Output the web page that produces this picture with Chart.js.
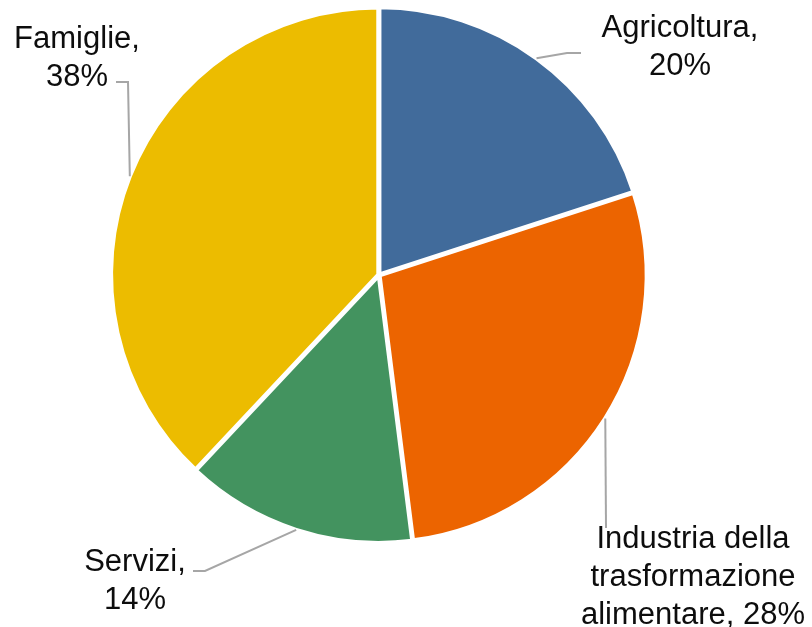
<!DOCTYPE html>
<html>
<head>
<meta charset="utf-8">
<script src="https://cdn.jsdelivr.net/npm/chart.js@4.4.1/dist/chart.umd.min.js"></script>
<style>
  html, body { margin: 0; padding: 0; background: #fff; }
</style>
</head>
<body>
<canvas id="pie" width="812" height="627"></canvas>
<script>
const categories = ["Agricoltura", "Industria della trasformazione alimentare", "Servizi", "Famiglie"];
const shares = [20, 28, 14, 38];
const sliceColors = ["#416B9B", "#EC6400", "#43935F", "#ECBC00"];

// where each label block sits: centre x, first baseline, wrap width,
// and the elbow of its leader line (the last point goes to the slice)
const labelBoxes = [
  { cx: 680, y: 37, wrap: 175, leader: [[581, 53], [567, 53]] },
  { cx: 693, y: 548, wrap: 240, leader: [[606, 528]] },
  { cx: 135, y: 571, wrap: 150, leader: [[193, 571], [205, 571]] },
  { cx: 77, y: 48, wrap: 150, leader: [[116, 82], [128, 82]] }
];

const FONT = '31px "Liberation Sans", Arial, sans-serif';
const LINE_H = 38;

function wrapText(ctx, text, maxW) {
  const words = text.split(' ');
  const lines = [];
  let cur = '';
  words.forEach(w => {
    const test = cur ? cur + ' ' + w : w;
    if (cur && ctx.measureText(test).width > maxW) {
      lines.push(cur);
      cur = w;
    } else {
      cur = test;
    }
  });
  if (cur) lines.push(cur);
  return lines;
}

const sliceLabels = {
  id: 'sliceLabels',
  afterDatasetsDraw(chart) {
    const ctx = chart.ctx;
    const meta = chart.getDatasetMeta(0);
    ctx.save();
    ctx.font = FONT;
    meta.data.forEach((arc, i) => {
      const p = arc.getProps(['x', 'y', 'startAngle', 'endAngle', 'outerRadius'], true);
      const mid = (p.startAngle + p.endAngle) / 2;
      const r = p.outerRadius - arc.options.borderWidth / 2 + arc.options.offset;
      const ax = p.x + Math.cos(mid) * r;
      const ay = p.y + Math.sin(mid) * r;
      const box = labelBoxes[i];

      // leader line
      ctx.strokeStyle = '#A6A6A6';
      ctx.lineWidth = 2;
      ctx.beginPath();
      ctx.moveTo(box.leader[0][0], box.leader[0][1]);
      box.leader.slice(1).forEach(pt => ctx.lineTo(pt[0], pt[1]));
      ctx.lineTo(ax, ay);
      ctx.stroke();

      // label text: category, value
      const text = categories[i] + ', ' + shares[i] + '%';
      const lines = wrapText(ctx, text, box.wrap);
      ctx.fillStyle = '#0D0D0D';
      ctx.textAlign = 'center';
      ctx.textBaseline = 'alphabetic';
      lines.forEach((ln, k) => ctx.fillText(ln, box.cx, box.y + k * LINE_H));
    });
    ctx.restore();
  }
};

new Chart(document.getElementById('pie'), {
  type: 'pie',
  data: {
    labels: categories,
    datasets: [{
      data: shares,
      backgroundColor: sliceColors,
      borderColor: '#FFFFFF',
      borderWidth: 4,
      offset: 3,
      hoverOffset: 0
    }]
  },
  options: {
    responsive: false,
    animation: false,
    devicePixelRatio: 1,
    radius: 267,
    layout: { padding: { left: 109, right: 163, top: 5, bottom: 82 } },
    plugins: {
      legend: { display: false },
      tooltip: { enabled: false }
    },
    events: []
  },
  plugins: [sliceLabels]
});
</script>
</body>
</html>
